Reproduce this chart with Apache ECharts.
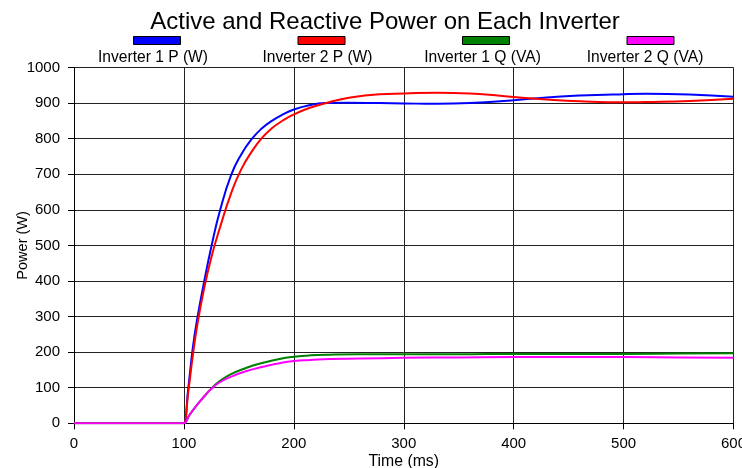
<!DOCTYPE html>
<html>
<head>
<meta charset="utf-8">
<script src="https://cdn.jsdelivr.net/npm/echarts@6/dist/echarts.min.js"></script>
<style>
  html, body { margin: 0; padding: 0; background: #fff; }
  #chart { width: 742px; height: 468px; }
</style>
</head>
<body>
<div id="chart"></div>
<script>
// time axis (ms) for the active power traces
const timeP = [0, 99, 100, 104, 108, 112, 118, 125, 133, 143, 152, 162, 171, 180, 190, 200, 214, 228, 250, 278, 300, 330, 360, 400, 430, 460, 500, 520, 560, 600];
const inv1P = [0, 0, 0, 100, 210, 292, 392, 497, 600, 698, 755, 800, 829, 850, 868, 882, 894, 900, 901, 900, 899, 898, 900, 908, 916, 921, 925, 926, 924, 918];
const inv2P = [0, 0, 0, 89, 188, 273, 373, 467, 552, 647, 713, 765, 802, 829, 851, 868, 886, 899, 915, 925, 927, 929, 927, 917, 910, 905, 902, 903, 906, 912];

// time axis (ms) for the reactive power traces
const timeQ = [0, 99, 100, 105, 110, 115, 120, 125, 132, 142, 157, 172, 187, 200, 215, 233, 260, 300, 350, 400, 450, 500, 550, 600];
const inv1Q = [0, 0, 0, 23, 44, 63, 81, 98, 117, 137, 156, 170, 181, 187, 191, 193, 194, 194, 194, 195, 195, 195, 196, 197];
const inv2Q = [0, 0, 0, 23, 44, 63, 81, 97, 114, 130, 147, 159, 169, 175, 178, 181, 182, 184, 185, 186, 186, 186, 185, 184];

const seriesNames = ['Inverter 1 P (W)', 'Inverter 2 P (W)', 'Inverter 1 Q (VA)', 'Inverter 2 Q (VA)'];
const seriesColors = ['#0000ff', '#ff0000', '#008000', '#ff00ff'];
const legendCenters = [153, 317.5, 482.5, 645];

const pairs = (xs, ys) => xs.map((x, i) => [x, ys[i]]);
const seriesData = [pairs(timeP, inv1P), pairs(timeP, inv2P), pairs(timeQ, inv1Q), pairs(timeQ, inv2Q)];

const chart = echarts.init(document.getElementById('chart'));
const font = 'Liberation Sans, Arial, sans-serif';

chart.setOption({
    animation: false,
    textStyle: { fontFamily: font },
    title: {
        text: 'Active and Reactive Power on Each Inverter',
        left: 380,
        textAlign: 'center',
        top: 5,
        textStyle: { fontSize: 24, fontWeight: 'normal', color: '#000', fontFamily: font }
    },
    legend: {
        data: seriesNames,
        left: 133,
        top: 36,
        padding: 0,
        icon: 'rect',
        itemWidth: 47,
        itemHeight: 8,
        itemGap: 116.5,
        formatter: () => '',
        selectedMode: false,
        itemStyle: { borderColor: '#000', borderWidth: 1 }
    },
    graphic: seriesNames.map((name, i) => ({
        type: 'text',
        x: legendCenters[i],
        y: 58,
        style: {
            text: name,
            fontSize: 15.6,
            fontFamily: font,
            fill: '#000',
            align: 'center',
            verticalAlign: 'middle'
        }
    })),
    grid: { left: 74, right: 8.5, top: 67.5, bottom: 44.7, outerBoundsMode: 'none', containLabel: false },
    xAxis: {
        type: 'value',
        min: 0,
        max: 600,
        interval: 100,
        name: 'Time (ms)',
        nameLocation: 'middle',
        nameGap: 30,
        nameMoveOverlap: false,
        nameTextStyle: { fontSize: 15.8, color: '#000', fontFamily: font },
        axisLine: { lineStyle: { color: '#000', width: 1 } },
        axisTick: { show: true, length: 6, lineStyle: { color: '#000' } },
        axisLabel: { fontSize: 15, color: '#000', margin: 13, fontFamily: font },
        splitLine: { show: true, lineStyle: { color: '#222', width: 1 } }
    },
    yAxis: {
        type: 'value',
        min: 0,
        max: 1000,
        interval: 100,
        name: 'Power (W)',
        nameLocation: 'middle',
        nameGap: 44,
        nameMoveOverlap: false,
        nameTextStyle: { fontSize: 14.5, color: '#000', fontFamily: font },
        axisLine: { show: true, lineStyle: { color: '#000', width: 1 } },
        axisTick: { show: true, length: 6, lineStyle: { color: '#000' } },
        axisLabel: { fontSize: 15, color: '#000', margin: 14, fontFamily: font, formatter: v => String(v) },
        splitLine: { show: true, lineStyle: { color: '#222', width: 1 } }
    },
    series: seriesNames.map((name, i) => ({
        name: name,
        type: 'line',
        data: seriesData[i],
        showSymbol: false,
        smooth: 0.5,
        color: seriesColors[i],
        lineStyle: { color: seriesColors[i], width: 2 }
    }))
});
</script>
</body>
</html>
